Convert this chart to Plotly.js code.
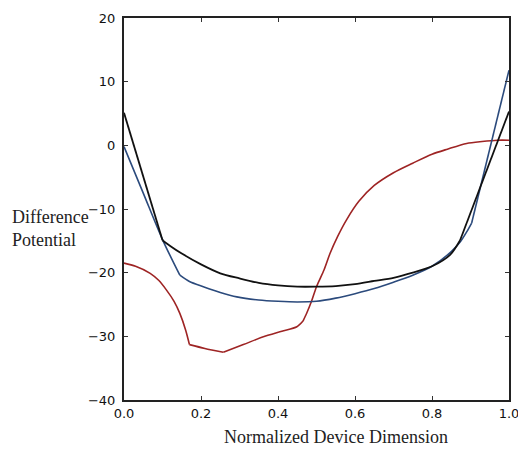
<!DOCTYPE html>
<html>
<head>
<meta charset="utf-8">
<script src="https://cdn.plot.ly/plotly-3.0.1.min.js"></script>
<style>html,body{margin:0;padding:0;background:#fff;}#chart{width:518px;height:463px;}</style>
</head>
<body>
<div id="chart"></div>
<script>
// Black curve
const blackX = [0, 0.1, 0.12, 0.15, 0.2, 0.25, 0.3, 0.35, 0.4, 0.45, 0.5, 0.55, 0.6, 0.65, 0.7, 0.75, 0.8, 0.847, 0.873, 1.0];
const blackY = [5.1, -14.9, -15.8, -17.0, -18.7, -20.1, -20.9, -21.6, -22.0, -22.2, -22.2, -22.1, -21.8, -21.3, -20.8, -20.0, -19.0, -17.2, -14.9, 5.3];
// Blue curve
const blueX = [0, 0.05, 0.1, 0.145, 0.17, 0.206, 0.25, 0.293, 0.35, 0.4, 0.45, 0.5, 0.55, 0.6, 0.65, 0.7, 0.75, 0.8, 0.85, 0.873, 0.89, 0.903, 1.0];
const blueY = [-0.2, -7.5, -14.8, -20.4, -21.4, -22.2, -23.1, -23.8, -24.3, -24.5, -24.6, -24.5, -24.0, -23.3, -22.5, -21.5, -20.4, -19.0, -16.7, -15.2, -13.6, -12.2, 11.8];
// Red curve
const redX = [0, 0.03, 0.068, 0.09, 0.11, 0.13, 0.145, 0.16, 0.17, 0.21, 0.258, 0.31, 0.36, 0.41, 0.449, 0.465, 0.475, 0.487, 0.5, 0.52, 0.535, 0.555, 0.578, 0.61, 0.65, 0.7, 0.75, 0.8, 0.84, 0.89, 0.93, 0.97, 1.0];
const redY = [-18.5, -19.0, -20.1, -21.2, -22.7, -24.5, -26.4, -29.0, -31.3, -31.9, -32.5, -31.3, -30.1, -29.2, -28.5, -27.6, -26.3, -24.5, -22.2, -19.5, -17.0, -14.3, -11.7, -8.8, -6.3, -4.3, -2.8, -1.4, -0.6, 0.3, 0.6, 0.8, 0.8];

// indices where the curves have sharp corners
const blackKinks = [1, 18];
const blueKinks = [3, 21];
const redKinks = [8, 10, 15];

const xTicks = [0, 0.2, 0.4, 0.6, 0.8, 1.0];
const yTicks = [-40, -30, -20, -10, 0, 10, 20];

const xTitle = "Normalized Device Dimension";
const yTitle = "Difference<br>Potential";

function segments(xs, ys, kinks, color, width) {
  const cuts = [0].concat(kinks, [xs.length - 1]);
  const out = [];
  for (let i = 0; i < cuts.length - 1; i++) {
    const a = cuts[i], b = cuts[i + 1];
    out.push({
      x: xs.slice(a, b + 1), y: ys.slice(a, b + 1), mode: "lines",
      line: {color: color, width: width, shape: "spline", smoothing: 0.8},
      hoverinfo: "none"
    });
  }
  return out;
}

const traces = [].concat(
  segments(redX, redY, redKinks, "#9e2424", 1.6),
  segments(blueX, blueY, blueKinks, "#2b4a7c", 1.6),
  segments(blackX, blackY, blackKinks, "#111111", 1.8)
);

const axisCommon = {
  showline: true, linecolor: "#222", linewidth: 2, mirror: "ticks",
  ticks: "inside", ticklen: 4, tickwidth: 1, tickcolor: "#333",
  showgrid: false, zeroline: false, ticklabeloverflow: "allow",
  tickfont: {family: "DejaVu Sans", size: 13, color: "#111"}
};

const layout = {
  width: 518, height: 463,
  margin: {l: 124, r: 9, t: 18, b: 63},
  paper_bgcolor: "#fff", plot_bgcolor: "#fff",
  showlegend: false,
  xaxis: Object.assign({}, axisCommon, {range: [0, 1], tickmode: "array", tickvals: xTicks, ticktext: xTicks.map(v => v.toFixed(1)), ticklabelstandoff: 0}),
  yaxis: Object.assign({}, axisCommon, {range: [-40, 20], tickmode: "array", tickvals: yTicks, ticktext: yTicks.map(v => v < 0 ? "\u2212" + Math.abs(v) : String(v)), ticklabelstandoff: 4}),
  annotations: [
    {text: xTitle, xref: "paper", yref: "paper", x: 0.551, y: -0.097, xanchor: "center", yanchor: "middle", showarrow: false,
     font: {family: "Liberation Serif", size: 18, color: "#222"}},
    {text: yTitle, xref: "paper", yref: "paper", x: -0.296, y: 0.45, xanchor: "left", yanchor: "middle", align: "left", showarrow: false,
     font: {family: "Liberation Serif", size: 18, color: "#222"}}
  ]
};

Plotly.newPlot("chart", traces, layout, {staticPlot: true, displayModeBar: false});
</script>
</body>
</html>
